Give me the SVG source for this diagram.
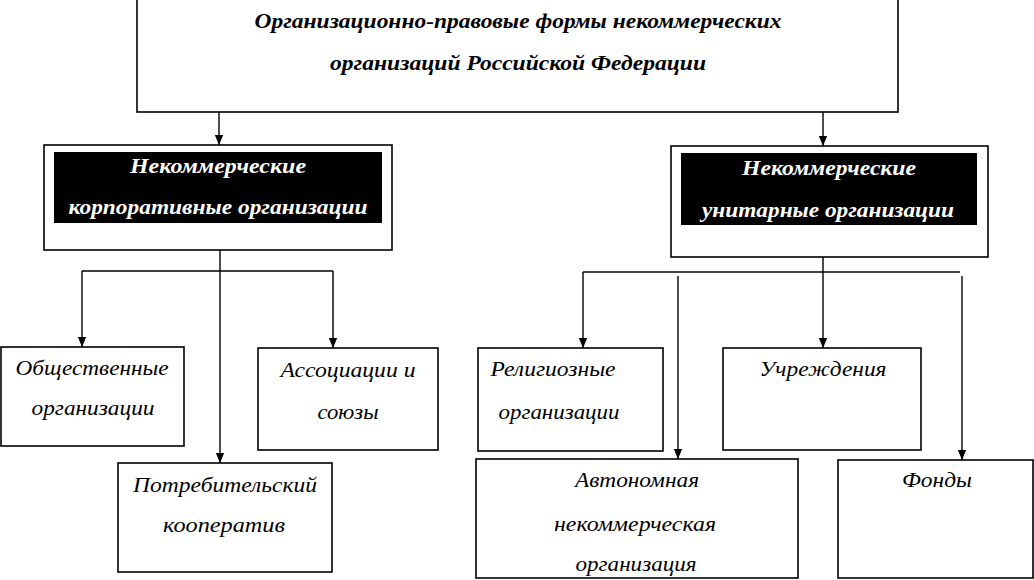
<svg xmlns="http://www.w3.org/2000/svg" width="1034" height="580" viewBox="0 0 1034 580" font-family="Liberation Serif, Times New Roman, serif">
<style>
.box{fill:#fff;stroke:#000;stroke-width:1.6}
.blk{fill:#000}
.t{fill:#000;font-style:italic;text-anchor:middle;font-size:20px}
.tb{font-weight:bold;fill:#000;font-style:italic;text-anchor:middle;font-size:20px}
.w{fill:#fff}
.c{stroke:#000;stroke-width:1.4;fill:none}
</style>
<defs>
<marker id="ar" markerWidth="10" markerHeight="12" refX="12" refY="5" orient="auto" markerUnits="userSpaceOnUse" viewBox="0 0 12 10">
<path d="M0,0 L12,5 L0,10 Z" fill="#000"/>
</marker>
</defs>
<g id="root">
<rect class="box" x="137" y="-1" width="761" height="113"/>
<text class="tb" x="518" y="28" textLength="527" lengthAdjust="spacingAndGlyphs">Организационно-правовые формы некоммерческих</text>
<text class="tb" x="518" y="70" textLength="376" lengthAdjust="spacingAndGlyphs">организаций Российской Федерации</text>
</g>
<g id="corp">
<rect class="box" x="44" y="145" width="348" height="105"/>
<rect class="blk" x="54" y="152" width="328" height="71"/>
<text class="tb w" x="218" y="173" textLength="176" lengthAdjust="spacingAndGlyphs">Некоммерческие</text>
<text class="tb w" x="218" y="214" textLength="299" lengthAdjust="spacingAndGlyphs">корпоративные организации</text>
</g>
<g id="unit">
<rect class="box" x="671" y="146" width="317" height="111"/>
<rect class="blk" x="681" y="153" width="296" height="72"/>
<text class="tb w" x="829" y="175" textLength="174" lengthAdjust="spacingAndGlyphs">Некоммерческие</text>
<text class="tb w" x="828" y="217" textLength="252" lengthAdjust="spacingAndGlyphs">унитарные организации</text>
</g>
<g id="obsh">
<rect class="box" x="1" y="347" width="183" height="99"/>
<text class="t" x="92" y="375" textLength="153" lengthAdjust="spacingAndGlyphs">Общественные</text>
<text class="t" x="93" y="415" textLength="123" lengthAdjust="spacingAndGlyphs">организации</text>
</g>
<g id="assoc">
<rect class="box" x="258" y="348" width="180" height="102"/>
<text class="t" x="348" y="377" textLength="135" lengthAdjust="spacingAndGlyphs">Ассоциации и</text>
<text class="t" x="348" y="419" textLength="61" lengthAdjust="spacingAndGlyphs">союзы</text>
</g>
<g id="potreb">
<rect class="box" x="118" y="463" width="214" height="109"/>
<text class="t" x="225" y="492" textLength="184" lengthAdjust="spacingAndGlyphs">Потребительский</text>
<text class="t" x="224" y="532" textLength="122" lengthAdjust="spacingAndGlyphs">кооператив</text>
</g>
<g id="relig">
<rect class="box" x="478" y="348" width="185" height="103"/>
<text class="t" x="553" y="376" textLength="125" lengthAdjust="spacingAndGlyphs">Религиозные</text>
<text class="t" x="559" y="419" textLength="121" lengthAdjust="spacingAndGlyphs">организации</text>
</g>
<g id="uchr">
<rect class="box" x="723" y="348" width="198" height="102"/>
<text class="t" x="823" y="376" textLength="127" lengthAdjust="spacingAndGlyphs">Учреждения</text>
</g>
<g id="anko">
<rect class="box" x="476" y="459" width="322" height="119"/>
<text class="t" x="637" y="487" textLength="124" lengthAdjust="spacingAndGlyphs">Автономная</text>
<text class="t" x="635" y="531" textLength="162" lengthAdjust="spacingAndGlyphs">некоммерческая</text>
<text class="t" x="636" y="571" textLength="121" lengthAdjust="spacingAndGlyphs">организация</text>
</g>
<g id="fond">
<rect class="box" x="838" y="460" width="195" height="118"/>
<text class="t" x="937" y="487" textLength="70" lengthAdjust="spacingAndGlyphs">Фонды</text>
</g>
<g id="connectors">
<path class="c" d="M219,112 V145" marker-end="url(#ar)"/>
<path class="c" d="M823,112 V146" marker-end="url(#ar)"/>
<path class="c" d="M220,250 V271"/>
<path class="c" d="M82,271 H333"/>
<path class="c" d="M82,271 V347" marker-end="url(#ar)"/>
<path class="c" d="M333,271 V348" marker-end="url(#ar)"/>
<path class="c" d="M220,271 V463" marker-end="url(#ar)"/>
<path class="c" d="M583,272 H960"/>
<path class="c" d="M823,257 V348" marker-end="url(#ar)"/>
<path class="c" d="M583,272 V348" marker-end="url(#ar)"/>
<path class="c" d="M678,276 V459" marker-end="url(#ar)"/>
<path class="c" d="M962,276 V460" marker-end="url(#ar)"/>
</g>
</svg>
